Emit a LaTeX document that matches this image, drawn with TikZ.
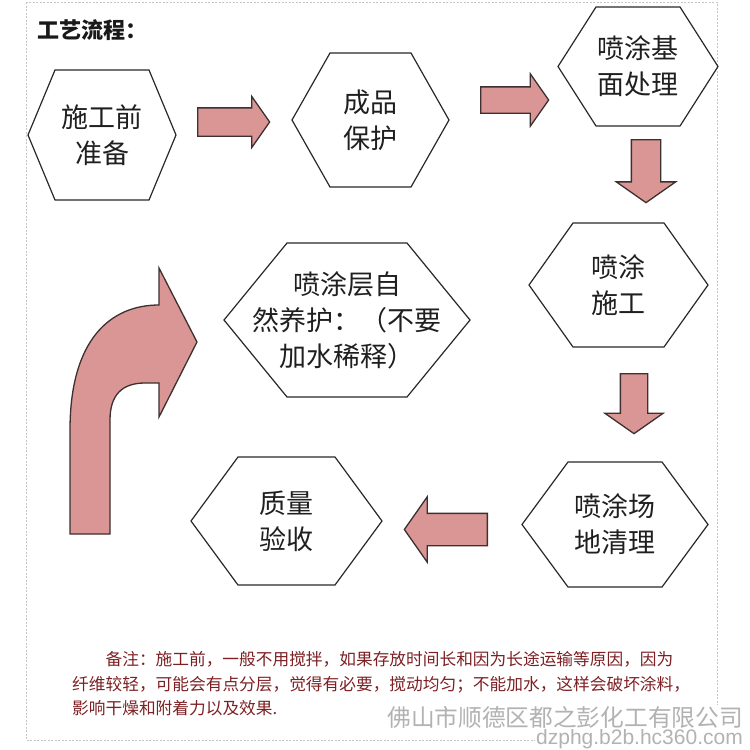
\documentclass[tikz,border=0pt]{standalone}
\usepackage{fontspec}
\usepackage{tikz}
\usetikzlibrary{shapes.arrows,calc}
\newfontfamily\cjk{Noto Sans CJK SC}
\newfontfamily\wmlatin{Liberation Sans}
\definecolor{arrowfill}{RGB}{217,150,148}
\definecolor{arrowline}{RGB}{60,48,48}
\definecolor{notered}{RGB}{125,32,36}
\definecolor{hexline}{RGB}{40,40,40}

\begin{document}
\begin{tikzpicture}[x=1pt, y=-1pt,
  stepbox/.style={align=center, inner sep=0pt, text=black!88, font=\cjk\fontsize{27}{36}\selectfont},
  arrowbody/.style={draw=arrowline, fill=arrowfill, line width=1.3pt, line join=miter},
  blockarrow/.style={arrowbody, single arrow, inner xsep=0pt, anchor=tail, single arrow tip angle=110},
  hexedge/.style={draw=hexline, line width=1.2pt},
  watermark/.style={anchor=east, fill=white, inner sep=1pt, text=gray!60}]
\useasboundingbox (0,0) rectangle (750,750);

% frame
\draw[gray!45, line width=0.8pt, dash pattern=on 2pt off 1.5pt] (26,2) rectangle (717,740);

\node[anchor=west, text=black!90, font=\cjk\bfseries\fontsize{22}{26}\selectfont] (title) at (34,30) {工艺流程：};

\node[stepbox] (prep)  at (102,135)   {施工前\\准备};
\node[stepbox] (prot)  at (370.5,120) {成品\\保护};
\node[stepbox] (base)  at (638,66.5)  {喷涂基\\面处理};
\node[stepbox] (spray) at (618.5,285) {喷涂\\施工};
\node[stepbox] (clean) at (615,524.5) {喷涂场\\地清理};
\node[stepbox] (check) at (286.5,521) {质量\\验收};
\node[stepbox] (cure)  at (347,320)   {喷涂层自\\然养护：（不要\\加水稀释）};

% hexagon borders: name/half width/half height/inset
\foreach \n/\w/\h/\d in {prep/74/65/27, prot/78.5/67/38, base/80/59.5/38, spray/89.5/62/44, clean/93/62.5/46, check/95.5/64/47, cure/123/77/63}
  \draw[hexedge] ($(\n)+(-\w,0)$) -- ($(\n)+(\d-\w,-\h)$) -- ($(\n)+(\w-\d,-\h)$) -- ($(\n)+(\w,0)$) -- ($(\n)+(\w-\d,\h)$) -- ($(\n)+(\d-\w,\h)$) -- cycle;

\node[blockarrow, minimum height=72pt, inner ysep=13.5pt, single arrow head extend=11.5pt] (ar1) at (197,122) {};
\node[blockarrow, minimum height=68pt, inner ysep=12.5pt, single arrow head extend=13pt] (ar2) at (480,100) {};
\node[blockarrow, rotate=-90, minimum height=63pt, inner ysep=14pt, single arrow head extend=15pt] (ar3) at (646,139) {};
\node[blockarrow, rotate=-90, minimum height=60pt, inner ysep=13pt, single arrow head extend=15.5pt] (ar4) at (634,373) {};
\node[blockarrow, rotate=180, minimum height=83pt, inner ysep=15.5pt, single arrow head extend=16.5pt] (ar5) at (488,529.5) {};

% bent arrow back up to the curing step
\draw[arrowbody] (70,534) -- (70,430) .. controls (70,340) and (110,305) .. (159,305) -- (159,268) -- (197,342) -- (159,417) -- (159,383) -- (145,383) .. controls (122,383) and (110,395) .. (110,420) -- (110,534) -- cycle;

\node[anchor=west, align=left, inner sep=0pt, text=notered, font=\cjk\fontsize{16.7}{24.5}\selectfont] (note) at (72,684)
  {\hspace*{2em}备注：施工前，一般不用搅拌，如果存放时间长和因为长途运输等原因，因为\\纤维较轻，可能会有点分层，觉得有必要，搅动均匀；不能加水，这样会破坏涂料，\\影响干燥和附着力以及效果.};

\node[watermark, font=\wmlatin\fontsize{21}{24}\selectfont] (site) at (744,739) {dzphg.b2b.hc360.com};
\node[watermark, font=\cjk\fontsize{23.7}{26}\selectfont] (company) at (744,717) {佛山市顺德区都之彭化工有限公司};
\end{tikzpicture}
\end{document}
